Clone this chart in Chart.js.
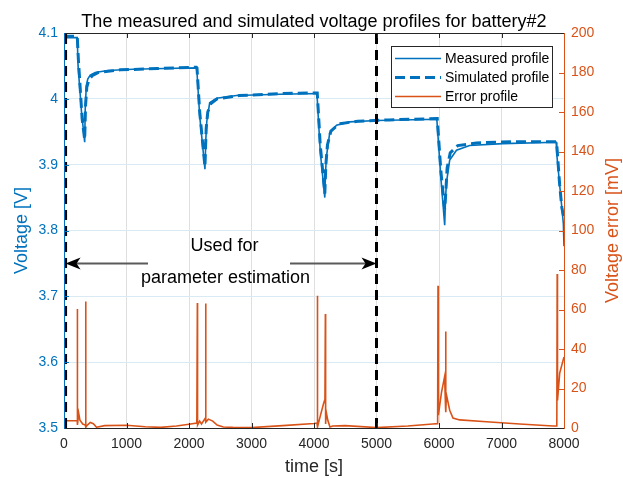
<!DOCTYPE html>
<html>
<head>
<meta charset="utf-8">
<script src="https://cdn.jsdelivr.net/npm/chart.js@4"></script>
<style>
    body { margin: 0; background: #fff; }
</style>
</head>
<body>
<canvas id="voltageChart" width="623" height="478"></canvas>
<script>
// Measured terminal voltage [s, V]
const measuredTime = [0, 212, 225, 280, 331, 340, 357, 380, 420, 500, 700, 1100, 1600, 2118,
    2128, 2171, 2255, 2270, 2285, 2331, 2440, 2760, 3450, 4045,
    4052, 4100, 4173, 4185, 4200, 4251, 4360, 4570, 5000, 5965,
    5972, 6030, 6091, 6105, 6120, 6171, 6280, 6490, 7020, 7875,
    7885, 7940, 7990, 8000];
const measuredVoltage = [4.093, 4.093, 4.05, 3.98, 3.934, 3.985, 4.020, 4.030, 4.036, 4.040, 4.043, 4.045, 4.046, 4.047,
    4.040, 3.974, 3.893, 3.94, 3.966, 3.994, 4.001, 4.005, 4.007, 4.008,
    4.000, 3.92, 3.850, 3.89, 3.913, 3.948, 3.960, 3.965, 3.967, 3.969,
    3.960, 3.88, 3.808, 3.85, 3.873, 3.907, 3.922, 3.929, 3.932, 3.934,
    3.915, 3.86, 3.81, 3.776];

// Simulated terminal voltage [s, V]
const simulatedTime = [0, 212, 230, 290, 331, 345, 365, 400, 450, 550, 900, 1500, 2118,
    2128, 2171, 2255, 2275, 2300, 2350, 2450, 2800, 3500, 4045,
    4052, 4100, 4173, 4190, 4215, 4270, 4400, 4700, 5200, 5965,
    5972, 6030, 6091, 6110, 6130, 6180, 6300, 6600, 7200, 7875,
    7885, 7930, 7965, 8000];
const simulatedVoltage = [4.095, 4.095, 4.06, 3.97, 3.938, 3.99, 4.018, 4.029, 4.035, 4.040, 4.044, 4.046, 4.048,
    4.047, 3.98, 3.897, 3.955, 3.98, 3.993, 4.000, 4.005, 4.008, 4.009,
    4.009, 3.93, 3.856, 3.90, 3.93, 3.951, 3.962, 3.966, 3.968, 3.970,
    3.970, 3.89, 3.832, 3.86, 3.895, 3.918, 3.929, 3.933, 3.935, 3.935,
    3.930, 3.87, 3.835, 3.818];

// Absolute error between the two profiles [s, mV]
const errorTime = [0, 212, 214, 216, 235, 255, 300, 340, 347, 350, 375, 420, 470, 520, 650, 1000, 1300, 1550, 1800, 2000,
    2125, 2134, 2137, 2170, 2200, 2262, 2267, 2270, 2310, 2380, 2450, 2550, 2700, 3000, 3500, 4000,
    4048, 4054, 4058, 4100, 4150, 4175, 4182, 4186, 4195, 4220, 4255, 4300, 4500, 5000, 5500, 5900,
    5978, 5984, 5990, 6040, 6090, 6105, 6107, 6110, 6118, 6171, 6224, 6331, 6758, 7291, 7824,
    7885, 7891, 7896, 7931, 8000];
const errorMv = [3.7, 3.7, 60.3, 1.5, 7.5, 4, 2, 1.5, 64, 0.5, 1.5, 2.8, 2.2, 0.4, 1.2, 1.4, 0.6, 0.3, 1.0, 1.9,
    2.5, 63.3, 1.5, 3.5, 2.0, 5, 63, 3, 4.5, 3.5, 1.5, 0.5, 0.3, 0.2, 1.2, 2.3,
    2.5, 67, 0.5, 6, 12, 14.5, 57.7, 2, 8.3, 4, 0.5, 1.0, 1.2, 0.2, 1.0, 2.0,
    2.2, 72, 6.5, 18, 26, 10, 48.9, 8, 17, 9, 5, 4.1, 3.2, 2.0, 1.0,
    1.0, 78, 14, 27.8, 36];

// Boundaries of the parameter-estimation window [s]
const windowStart = 25;
const windowEnd = 5000;
const windowArrowVoltage = 3.75;

const timeTicks = [0, 1000, 2000, 3000, 4000, 5000, 6000, 7000, 8000];
const voltageTicks = [3.5, 3.6, 3.7, 3.8, 3.9, 4.0, 4.1];
const errorTicks = [0, 20, 40, 60, 80, 100, 120, 140, 160, 180, 200];

const BLUE = '#0072BD';
const ORANGE = '#D95319';
const AXIS = '#262626';
const FONT = "'Liberation Sans', Arial, sans-serif";

const zip = (xs, ys) => xs.map((x, i) => ({ x, y: ys[i] }));

// Frame, inward ticks, titles, legend and the estimation-window arrow
const decorations = {
    id: 'decorations',
    afterDatasetsDraw(chart) {
        const { ctx, chartArea: a, scales } = chart;
        const { x, y, y1 } = scales;
        ctx.save();

        // Tick marks pointing into the plot
        const tickLen = 5;
        ctx.lineWidth = 1;
        ctx.strokeStyle = AXIS;
        timeTicks.forEach(t => {
            const px = Math.round(x.getPixelForValue(t)) + 0.5;
            ctx.beginPath();
            ctx.moveTo(px, a.bottom); ctx.lineTo(px, a.bottom - tickLen);
            ctx.moveTo(px, a.top); ctx.lineTo(px, a.top + tickLen);
            ctx.stroke();
        });
        ctx.strokeStyle = BLUE;
        voltageTicks.forEach(v => {
            const py = Math.round(y.getPixelForValue(v)) + 0.5;
            ctx.beginPath();
            ctx.moveTo(a.left, py); ctx.lineTo(a.left + tickLen, py);
            ctx.stroke();
        });
        ctx.strokeStyle = ORANGE;
        errorTicks.forEach(v => {
            const py = Math.round(y1.getPixelForValue(v)) + 0.5;
            ctx.beginPath();
            ctx.moveTo(a.right, py); ctx.lineTo(a.right - tickLen, py);
            ctx.stroke();
        });

        // Axes box
        ctx.strokeStyle = AXIS;
        ctx.beginPath();
        ctx.moveTo(a.left, a.top + 0.5); ctx.lineTo(a.right, a.top + 0.5);
        ctx.moveTo(a.left, a.bottom + 0.5); ctx.lineTo(a.right, a.bottom + 0.5);
        ctx.stroke();
        ctx.strokeStyle = BLUE;
        ctx.beginPath();
        ctx.moveTo(a.left + 0.5, a.top); ctx.lineTo(a.left + 0.5, a.bottom + 1);
        ctx.stroke();
        ctx.strokeStyle = ORANGE;
        ctx.beginPath();
        ctx.moveTo(a.right + 0.5, a.top); ctx.lineTo(a.right + 0.5, a.bottom + 1);
        ctx.stroke();

        // Title and axis labels
        const midX = (a.left + a.right) / 2;
        const midY = (a.top + a.bottom) / 2;
        ctx.font = `18px ${FONT}`;
        ctx.textAlign = 'center';
        ctx.textBaseline = 'alphabetic';
        ctx.fillStyle = '#000';
        ctx.fillText('The measured and simulated voltage profiles for battery#2', midX, 26.5);
        ctx.fillStyle = AXIS;
        ctx.textBaseline = 'middle';
        ctx.fillText('time [s]', midX, 467);

        ctx.save();
        ctx.translate(22, midY);
        ctx.rotate(-Math.PI / 2);
        ctx.fillStyle = BLUE;
        ctx.fillText('Voltage [V]', 0, 0);
        ctx.restore();

        ctx.save();
        ctx.translate(613, midY);
        ctx.rotate(-Math.PI / 2);
        ctx.fillStyle = ORANGE;
        ctx.fillText('Voltage error [mV]', 0, 0);
        ctx.restore();

        // Double arrow marking the estimation window
        const ay = Math.round(y.getPixelForValue(windowArrowVoltage)) + 0.5;
        const ax0 = x.getPixelForValue(windowStart);
        const ax1 = x.getPixelForValue(windowEnd);
        ctx.strokeStyle = '#5a5a5a';
        ctx.lineWidth = 2;
        ctx.beginPath();
        ctx.moveTo(ax0 + 8, ay); ctx.lineTo(148, ay);
        ctx.moveTo(290, ay); ctx.lineTo(ax1 - 8, ay);
        ctx.stroke();
        ctx.fillStyle = '#000';
        [[ax0, 1], [ax1, -1]].forEach(([tip, dir]) => {
            ctx.beginPath();
            ctx.moveTo(tip, ay);
            ctx.lineTo(tip + dir * 15, ay - 6);
            ctx.lineTo(tip + dir * 11, ay);
            ctx.lineTo(tip + dir * 15, ay + 6);
            ctx.closePath();
            ctx.fill();
        });
        ctx.fillStyle = '#000';
        ctx.textAlign = 'center';
        ctx.fillText('Used for', 224.5, 246);
        ctx.fillText('parameter estimation', 225.5, 278);

        // Legend
        const lx = 391, ly = 46, lw = 161, lh = 61;
        ctx.fillStyle = '#fff';
        ctx.fillRect(lx, ly, lw, lh);
        ctx.strokeStyle = AXIS;
        ctx.lineWidth = 1;
        ctx.strokeRect(lx + 0.5, ly + 0.5, lw, lh);
        ctx.font = `14px ${FONT}`;
        ctx.textAlign = 'left';
        ctx.textBaseline = 'middle';
        const rows = [58.5, 77.5, 96.5];
        chart.data.datasets.filter(d => d.inLegend).forEach((d, i) => {
            ctx.save();
            ctx.strokeStyle = d.borderColor;
            ctx.lineWidth = d.borderWidth;
            ctx.setLineDash(d.borderDash || []);
            ctx.beginPath();
            ctx.moveTo(395, rows[i]); ctx.lineTo(441, rows[i]);
            ctx.stroke();
            ctx.restore();
            ctx.fillStyle = '#000';
            ctx.fillText(d.label, 445, rows[i] + 0.5);
        });

        ctx.restore();
    }
};

const ctx = document.getElementById('voltageChart');

new Chart(ctx, {
    type: 'line',
    data: {
        datasets: [
            {
                label: 'Measured profile',
                data: zip(measuredTime, measuredVoltage),
                yAxisID: 'y',
                borderColor: BLUE,
                borderWidth: 1.6,
                inLegend: true,
                order: 2
            },
            {
                label: 'Simulated profile',
                data: zip(simulatedTime, simulatedVoltage),
                yAxisID: 'y',
                borderColor: BLUE,
                borderWidth: 3,
                borderDash: [10, 5],
                inLegend: true,
                order: 3
            },
            {
                label: 'Error profile',
                data: zip(errorTime, errorMv),
                yAxisID: 'y1',
                borderColor: ORANGE,
                borderWidth: 1.6,
                inLegend: true,
                order: 1
            },
            {
                label: 'Window start',
                data: [{ x: windowStart, y: 3.5 }, { x: windowStart, y: 4.1 }],
                yAxisID: 'y',
                borderColor: '#000',
                borderWidth: 3,
                borderDash: [10, 6],
                order: 0
            },
            {
                label: 'Window end',
                data: [{ x: windowEnd, y: 3.5 }, { x: windowEnd, y: 4.1 }],
                yAxisID: 'y',
                borderColor: '#000',
                borderWidth: 3,
                borderDash: [10, 6],
                order: 0
            }
        ]
    },
    options: {
        responsive: false,
        animation: false,
        layout: { padding: { top: 33 } },
        elements: { point: { radius: 0 }, line: { tension: 0 } },
        plugins: {
            legend: { display: false },
            title: { display: false },
            tooltip: { enabled: false }
        },
        scales: {
            x: {
                type: 'linear',
                min: 0,
                max: 8000,
                afterBuildTicks: s => { s.ticks = timeTicks.map(value => ({ value })); },
                afterFit: s => { s.height = 50; },
                ticks: {
                    padding: 8,
                    color: AXIS,
                    font: { family: FONT, size: 14 },
                    maxRotation: 0,
                    callback: v => String(v)
                },
                grid: { color: 'rgb(223,223,223)', drawTicks: false },
                border: { display: false }
            },
            y: {
                position: 'left',
                min: 3.5,
                max: 4.1,
                afterBuildTicks: s => { s.ticks = voltageTicks.map(value => ({ value })); },
                afterFit: s => { s.width = 64; },
                ticks: {
                    padding: 6,
                    color: BLUE,
                    font: { family: FONT, size: 14 },
                    callback: v => String(Math.round(v * 10) / 10)
                },
                grid: { color: 'rgb(217,234,245)', drawTicks: false },
                border: { display: false }
            },
            y1: {
                position: 'right',
                min: 0,
                max: 200,
                afterBuildTicks: s => { s.ticks = errorTicks.map(value => ({ value })); },
                afterFit: s => { s.width = 59; },
                ticks: {
                    padding: 7,
                    color: ORANGE,
                    font: { family: FONT, size: 14 },
                    callback: v => String(v)
                },
                grid: { display: false, drawTicks: false },
                border: { display: false }
            }
        }
    },
    plugins: [decorations]
});
</script>
</body>
</html>
